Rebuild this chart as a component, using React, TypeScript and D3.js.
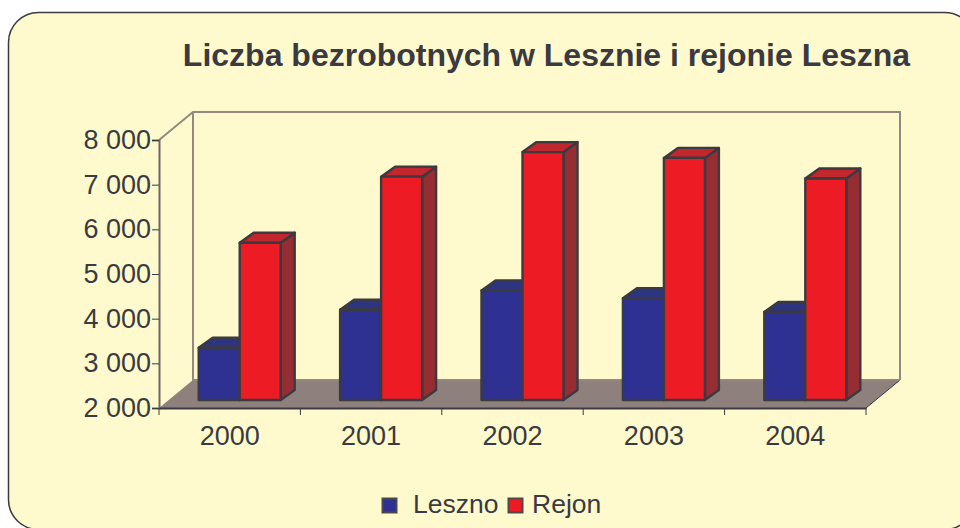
import React, { useRef, useEffect } from 'react';
import * as d3 from 'd3';

const years = ['2000', '2001', '2002', '2003', '2004'];
const leszno = [3170, 4020, 4450, 4280, 3970];
const rejon = [5520, 7000, 7550, 7420, 6960];
const yTicks = [2000, 3000, 4000, 5000, 6000, 7000, 8000];

const series = [
    { name: 'Leszno', values: leszno, front: '#2E3192', top: '#2E3580', side: '#2B2E78' },
    { name: 'Rejon', values: rejon, front: '#ED1C24', top: '#C1272D', side: '#952D33' },
];

const DARK = '#3A3A40';
const WALL = '#96887F';
const FONT = '"Liberation Sans", Arial, sans-serif';

const App = () => {
    const ref = useRef<SVGSVGElement>(null);

    useEffect(() => {
        const svg = d3.select(ref.current);
        svg.selectAll('*').remove();

        // outer panel runs off the right and bottom of the picture
        svg.append('rect')
            .attr('x', 8.5).attr('y', 12.5)
            .attr('width', 966).attr('height', 517)
            .attr('rx', 30).attr('ry', 30)
            .attr('fill', '#FFFACD')
            .attr('stroke', DARK).attr('stroke-width', 1.5);

        svg.append('text')
            .attr('x', 546.5).attr('y', 66)
            .attr('text-anchor', 'middle')
            .attr('font-family', FONT).attr('font-weight', 'bold').attr('font-size', 32)
            .attr('fill', DARK)
            .text('Liczba bezrobotnych w Lesznie i rejonie Leszna');

        const x = d3.scaleBand().domain(years).range([159, 866]);
        const y = d3.scaleLinear().domain([2000, 8000]).range([408, 140]);

        // 3d offsets: back wall, and bars sitting inside the floor
        const wallDx = 34, wallDy = -28;
        const barDx = 10, barDy = -8;
        const depthDx = 14, depthDy = -10;
        const barW = 41;

        const [x0, x1] = x.range();
        const yBottom = y(2000), yTop = y(8000);

        const poly = (pts: number[][], fill: string, stroke = 'none', sw = 0) =>
            svg.append('path')
                .attr('d', d3.line()(pts as [number, number][]) + 'Z')
                .attr('fill', fill)
                .attr('stroke', stroke)
                .attr('stroke-width', sw)
                .attr('stroke-linejoin', 'round');

        // floor
        poly([[x0, yBottom], [x0 + wallDx, yBottom + wallDy], [x1 + wallDx, yBottom + wallDy], [x1, yBottom]], '#8E807C');

        // walls
        const wall = svg.append('path')
            .attr('d', d3.line()([
                [x0, yTop], [x0 + wallDx, yTop + wallDy], [x1 + wallDx, yTop + wallDy], [x1 + wallDx, yBottom + wallDy],
            ]))
            .attr('fill', 'none').attr('stroke', WALL).attr('stroke-width', 2);
        wall.clone().attr('d', d3.line()([[x0 + wallDx, yTop + wallDy], [x0 + wallDx, yBottom + wallDy], [x1 + wallDx, yBottom + wallDy]]));
        wall.clone().attr('d', d3.line()([[x1, yBottom], [x1 + wallDx, yBottom + wallDy]])).attr('stroke', DARK).attr('stroke-width', 1);

        // bars
        years.forEach((yr, i) => {
            const start = x(yr)! + barDx + (x.bandwidth() - barW * series.length) / 2;
            series.forEach((s, j) => {
                const l = start + j * barW, r = l + barW;
                const t = y(s.values[i]) + barDy, b = yBottom + barDy;
                poly([[r, t], [r + depthDx, t + depthDy], [r + depthDx, b + depthDy], [r, b]], s.side, DARK, 2.4);
                poly([[l, t], [l + depthDx, t + depthDy], [r + depthDx, t + depthDy], [r, t]], s.top, DARK, 2.4);
                poly([[l, t], [r, t], [r, b], [l, b]], s.front, DARK, 2.4);
            });
        });

        // axes
        const yAxis = d3.axisLeft(y)
            .tickValues(yTicks)
            .tickSize(7)
            .tickPadding(1)
            .tickFormat(d => d3.format(',')(d as number).replace(',', ' '));
        const gy = svg.append('g').attr('transform', `translate(${x0},0)`).call(yAxis);

        const xAxis = d3.axisBottom(x).tickSize(0).tickPadding(18);
        const gx = svg.append('g').attr('transform', `translate(0,${yBottom})`).call(xAxis);

        // ticks sit between the years, not under them
        gx.selectAll('.xtick')
            .data([...years.map(d => x(d)!), x1])
            .enter().append('line')
            .attr('class', 'xtick')
            .attr('x1', d => d).attr('x2', d => d)
            .attr('y1', 0).attr('y2', 7)
            .attr('stroke', DARK).attr('stroke-width', 1);

        [gy, gx].forEach(g => {
            g.selectAll('text').attr('font-family', FONT).attr('font-size', 27).attr('fill', DARK);
            g.select('.domain').attr('stroke', DARK).attr('stroke-width', 2);
            g.selectAll('.tick line').attr('stroke', DARK);
        });
        gy.select('.domain').attr('stroke', '#6E6664');

        // legend
        const legendX = [382.5, 508.5];
        const legendTextX = [413, 532];
        series.forEach((s, i) => {
            svg.append('rect')
                .attr('x', legendX[i]).attr('y', 498.5)
                .attr('width', 14).attr('height', 14)
                .attr('fill', s.front)
                .attr('stroke', '#4A4A4A').attr('stroke-width', 2);
            svg.append('text')
                .attr('x', legendTextX[i]).attr('y', 513)
                .attr('font-family', FONT).attr('font-size', 26.5)
                .attr('fill', DARK)
                .text(s.name);
        });
    }, []);

    return (
        <svg ref={ref} width={960} height={528} style={{ position: 'absolute', left: 0, top: 0, background: '#fff' }} />
    );
};

export default App;
